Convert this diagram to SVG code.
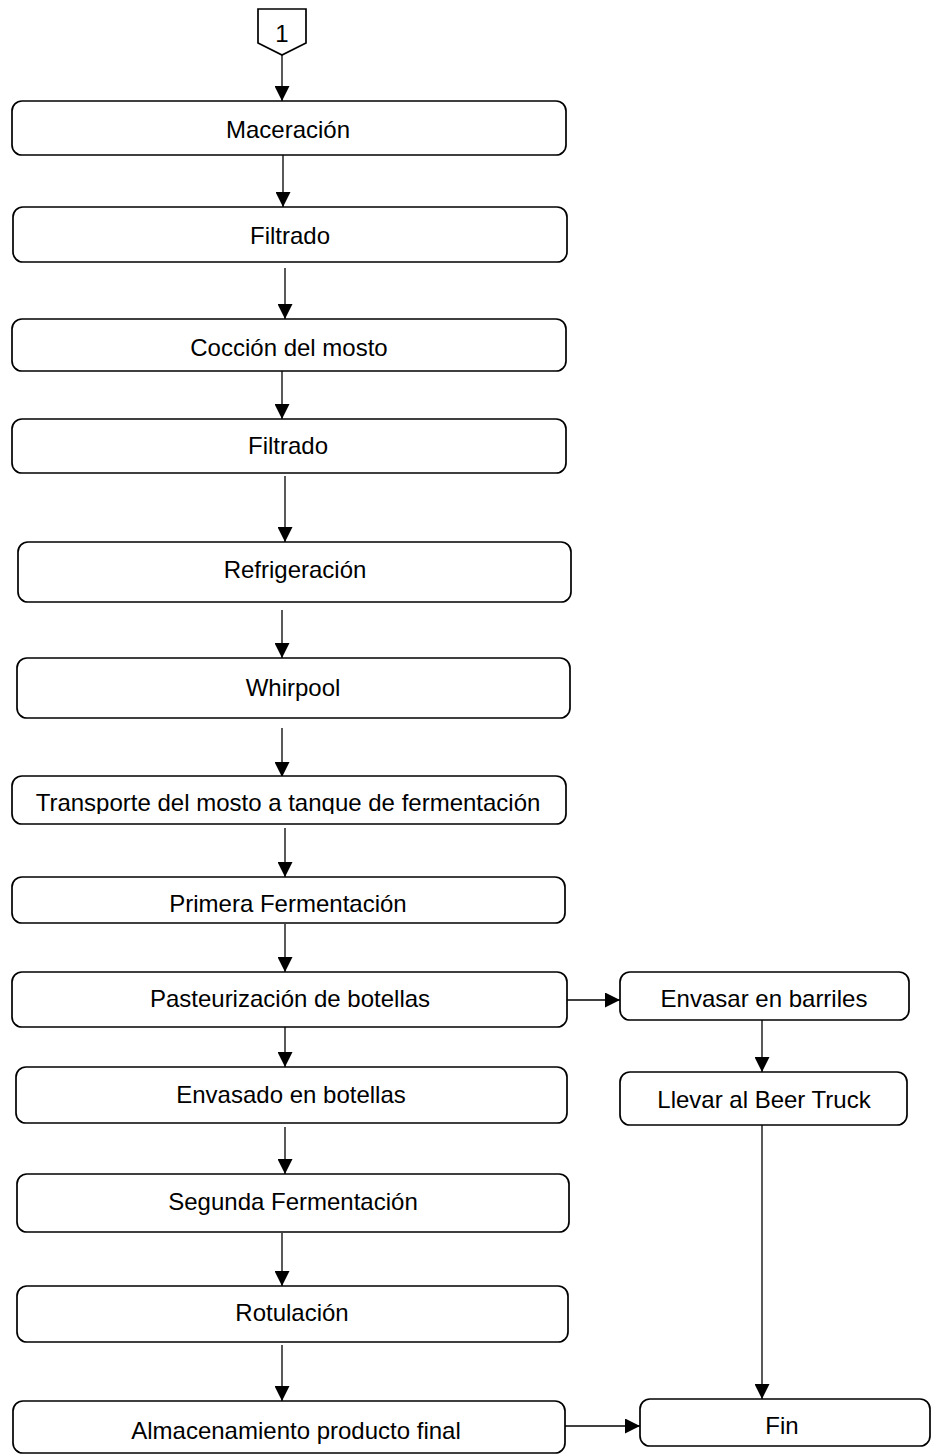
<svg xmlns="http://www.w3.org/2000/svg" width="932" height="1454" viewBox="0 0 932 1454">
<style>
.box{fill:#fff;stroke:#000;stroke-width:1.7}
.lbl{font-family:"Liberation Sans",Arial,sans-serif;font-size:24px;fill:#000;text-anchor:middle}
.edge{fill:none;stroke:#000;stroke-width:1.3;marker-end:url(#ah)}
</style>
<defs>
<marker id="ah" viewBox="0 0 15 15" refX="15" refY="7.5" markerWidth="15" markerHeight="15" markerUnits="userSpaceOnUse" orient="auto">
<path d="M0,0 L15,7.5 L0,15 z" fill="#000"/>
</marker>
<clipPath id="clipT"><rect x="12" y="777" width="554" height="37"/></clipPath>
</defs>
<rect width="932" height="1454" fill="#fff"/>
<g id="connectors">
<line class="edge" x1="282" y1="55" x2="282" y2="101"/>
<line class="edge" x1="283" y1="155" x2="283" y2="207"/>
<line class="edge" x1="285" y1="268" x2="285" y2="319"/>
<line class="edge" x1="282" y1="371" x2="282" y2="419"/>
<line class="edge" x1="285" y1="476" x2="285" y2="542"/>
<line class="edge" x1="282" y1="610" x2="282" y2="658"/>
<line class="edge" x1="282" y1="728" x2="282" y2="777"/>
<line class="edge" x1="285" y1="828" x2="285" y2="877"/>
<line class="edge" x1="285" y1="924" x2="285" y2="972"/>
<line class="edge" x1="567" y1="1000" x2="620" y2="1000"/>
<line class="edge" x1="762" y1="1020" x2="762" y2="1072"/>
<line class="edge" x1="762" y1="1125" x2="762" y2="1399"/>
<line class="edge" x1="285" y1="1027" x2="285" y2="1067"/>
<line class="edge" x1="285" y1="1127" x2="285" y2="1174"/>
<line class="edge" x1="282" y1="1233" x2="282" y2="1286"/>
<line class="edge" x1="282" y1="1345" x2="282" y2="1401"/>
<line class="edge" x1="565" y1="1426" x2="640" y2="1426"/>
</g>
<g id="n0"><polygon class="box" points="258,9 306,9 306,43 282,55 258,43"/><text class="lbl" x="282" y="42">1</text></g>
<g id="n1"><rect class="box" x="12" y="101" width="554" height="54" rx="10"/><text class="lbl" x="288" y="138">Maceración</text></g>
<g id="n2"><rect class="box" x="13" y="207" width="554" height="55" rx="10"/><text class="lbl" x="290" y="244">Filtrado</text></g>
<g id="n3"><rect class="box" x="12" y="319" width="554" height="52" rx="10"/><text class="lbl" x="289" y="356">Cocción del mosto</text></g>
<g id="n4"><rect class="box" x="12" y="419" width="554" height="54" rx="10"/><text class="lbl" x="288" y="454">Filtrado</text></g>
<g id="n5"><rect class="box" x="18" y="542" width="553" height="60" rx="10"/><text class="lbl" x="295" y="578">Refrigeración</text></g>
<g id="n6"><rect class="box" x="17" y="658" width="553" height="60" rx="10"/><text class="lbl" x="293" y="696">Whirpool</text></g>
<g id="n7"><rect class="box" x="12" y="776" width="554" height="48" rx="10"/><text class="lbl" x="288" y="811" clip-path="url(#clipT)">Transporte del mosto a tanque de fermentación</text></g>
<g id="n8"><rect class="box" x="12" y="877" width="553" height="46" rx="10"/><text class="lbl" x="288" y="912">Primera Fermentación</text></g>
<g id="n9"><rect class="box" x="12" y="972" width="555" height="55" rx="10"/><text class="lbl" x="290" y="1007">Pasteurización de botellas</text></g>
<g id="n10"><rect class="box" x="620" y="972" width="289" height="48" rx="10"/><text class="lbl" x="764" y="1007">Envasar en barriles</text></g>
<g id="n11"><rect class="box" x="620" y="1072" width="287" height="53" rx="10"/><text class="lbl" x="764" y="1108">Llevar al Beer Truck</text></g>
<g id="n12"><rect class="box" x="16" y="1067" width="551" height="56" rx="10"/><text class="lbl" x="291" y="1103">Envasado en botellas</text></g>
<g id="n13"><rect class="box" x="17" y="1174" width="552" height="58" rx="10"/><text class="lbl" x="293" y="1210">Segunda Fermentación</text></g>
<g id="n14"><rect class="box" x="17" y="1286" width="551" height="56" rx="10"/><text class="lbl" x="292" y="1321">Rotulación</text></g>
<g id="n15"><rect class="box" x="13" y="1401" width="552" height="52" rx="10"/><text class="lbl" x="296" y="1439">Almacenamiento producto final</text></g>
<g id="n16"><rect class="box" x="640" y="1399" width="290" height="47" rx="10"/><text class="lbl" x="782" y="1434">Fin</text></g>
</svg>
